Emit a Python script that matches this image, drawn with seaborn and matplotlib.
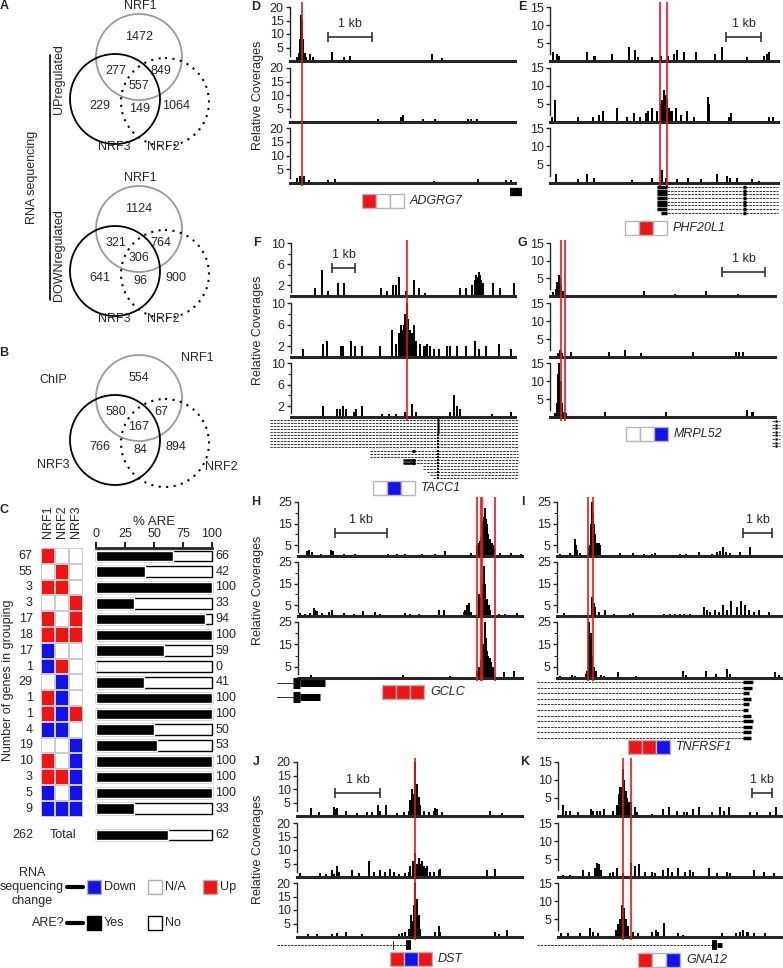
import numpy as np
import pandas as pd
import matplotlib as mpl
mpl.use('Agg')
import matplotlib.pyplot as plt
from matplotlib.patches import Circle, Rectangle
from matplotlib.colors import ListedColormap
import seaborn as sns

sns.set_style('ticks')
plt.rcParams['font.family'] = ['Liberation Sans', 'DejaVu Sans']
plt.rcParams['font.size'] = 9

W, H = 783, 968
RED = '#f21313'
BLUE = '#1212f0'
STATUS_COL = {1: RED, 0: 'white', -1: BLUE}

# ---- Venn counts: NRF1 only, NRF1&3, NRF1&2, all, NRF3 only, NRF2&3, NRF2 only
venn_up = [1472, 277, 849, 557, 229, 149, 1064]
venn_down = [1124, 321, 764, 306, 641, 96, 900]
venn_chip = [554, 580, 67, 167, 766, 84, 894]

# ---- panel C
group_counts = [67, 55, 3, 3, 17, 18, 17, 1, 29, 1, 1, 4, 19, 10, 3, 5, 9]
nrf1_change = [1, 0, 1, 0, 1, 1, -1, -1, 0, 1, 1, -1, 0, 1, 1, -1, -1]
nrf2_change = [0, 1, 1, 0, 0, 1, 0, 1, -1, -1, -1, -1, 0, 0, 1, 0, -1]
nrf3_change = [0, 0, 0, 1, 1, 1, 0, 0, 0, 0, 1, 0, -1, -1, -1, -1, -1]
are_pct = [66, 42, 100, 33, 94, 100, 59, 0, 41, 100, 100, 50, 53, 100, 100, 100, 33]
total_genes = 262
total_are = 62

# ---- genes shown in D-K
gene_names = ['ADGRG7', 'PHF20L1', 'TACC1', 'MRPL52', 'GCLC', 'TNFRSF1', 'DST', 'GNA12']
gene_status = [[1, 0, 0], [0, 1, 0], [0, -1, 0], [0, 0, -1],
               [1, 1, 1], [1, 1, -1], [1, -1, 1], [1, 0, -1]]

# ---- coverage peaks (position across window 0-100, relative coverage)
D1 = [(2.9, 1.5), (3.8, 3), (4.5, 8), (5.0, 17), (5.4, 15), (5.9, 8), (6.5, 3), (7.2, 1.5), (8.9, 2.5),
      (10.4, 1.5), (18.6, 3.5), (23.9, 1.5), (26.7, 2), (63, 2.5), (67.6, 1.2)]
D2 = [(39.2, 1), (49.3, 2), (50.2, 2.5), (58.9, 1), (64.4, 1.2), (70.7, 0.5), (79.3, 1), (80.3, 1), (83, 1.2)]
D3 = [(3.3, 2), (4.3, 2.5), (5.3, 2), (6.2, 2.5), (8.4, 1.2), (14.3, 0.5), (17, 1), (20, 1.5),
      (63.8, 0.6), (72.3, 0.4), (83.6, 1.5), (96, 1.2), (98.4, 1)]

E1 = [(1.5, 2.5), (3, 2), (4, 1.5), (16.4, 2.5), (19.4, 1.5), (19.9, 1.5), (27.3, 2), (34.8, 4), (37.3, 3),
      (38.8, 1), (44.8, 1), (48.5, 1.5), (51.9, 1.5), (54.2, 2), (55.7, 3), (58.7, 2.5), (64.2, 2.5),
      (72.4, 2), (75.4, 4), (86.6, 1), (94, 1.5), (95, 2), (96, 2.5)]
E2 = [(0.7, 1.5), (2.2, 6), (12.4, 1.5), (19, 1.5), (21.6, 2), (23.1, 3), (29.4, 4), (33.9, 1.5), (36.9, 2.5),
      (39.6, 1.5), (42.2, 2.5), (42.8, 3), (44.8, 4), (47, 3), (48.5, 5), (49.3, 6), (50, 9), (50.7, 7.5),
      (51.5, 6.5), (52.2, 4), (53.3, 3), (55.2, 4), (57.5, 2), (60, 3), (63.1, 1.5), (69.4, 7), (69.9, 5),
      (78.4, 1.5), (79.5, 2.5), (96, 1.5), (98, 1.5)]
E3 = [(2.5, 2.5), (12.4, 1), (16.4, 2.5), (19.4, 1.5), (35.8, 0.8), (44.8, 1.5), (49.3, 3.5), (50.7, 1.5),
      (55.9, 1), (60.4, 1.5), (66.4, 1), (73.1, 2.5), (77.6, 2), (79.1, 1.5), (82.1, 1.5), (88.8, 1), (91.8, 0.5)]

F1 = [(10.7, 1.5), (14, 5), (16.3, 1), (20.8, 2.5), (23.7, 2.5), (40, 1.5), (42.9, 1), (45.5, 2), (46.7, 2),
      (48.2, 3.5), (51.4, 1), (54.9, 3), (57.1, 1.5), (59.8, 0.5), (75.4, 1.5), (78.3, 1.5), (81, 2),
      (82.1, 3), (82.7, 4), (83.3, 3.5), (83.9, 4.5), (84.4, 4), (85, 3), (85.5, 2.5), (90, 2.5),
      (93.3, 1.5), (99.6, 2.5)]
F2 = [(5.2, 1.5), (14.1, 2.5), (16, 3), (22.2, 2), (23, 2), (27, 3), (28.4, 2), (31.9, 2), (39.7, 2),
      (45.2, 5), (46.7, 2.5), (48.1, 4.5), (48.9, 6), (49.6, 5), (50.4, 6), (51.1, 8), (51.6, 10), (52.1, 7),
      (53, 5), (54.1, 4.5), (54.8, 6), (56, 3), (57.8, 2.5), (59.6, 2), (60.7, 2.5), (62.2, 2), (63.7, 1.5),
      (65.9, 1.5), (69.6, 2), (70.8, 2), (74, 2), (78, 2), (82, 3), (84, 1.5), (87, 2), (93, 2.5), (98, 1.5)]
F3 = [(14.4, 2), (20.4, 1.5), (21.9, 1.5), (23.4, 2), (24.4, 1.5), (28.1, 1), (29.1, 1.5), (31.5, 2),
      (40.7, 0.5), (43.7, 0.5), (46.7, 0.5), (50.7, 1), (54.1, 2.5), (55.6, 1), (71.1, 1), (72.9, 4),
      (74.1, 2), (75.6, 1.5), (89.6, 0.5), (98, 1)]

G1 = [(1.5, 1), (2.5, 2), (3.2, 4), (3.8, 6), (4.4, 5), (5, 3), (5.8, 1.5), (41.8, 1.5),
      (55.6, 0.5), (69.3, 1.5), (83.7, 0.5)]
G2 = [(3.5, 1.2), (4.3, 2), (5.2, 1), (9.2, 1.5), (26.4, 1.5), (33.3, 2), (40.4, 1), (63.7, 1.5),
      (82.5, 1.5), (84, 1.5), (85.6, 1.5)]
G3 = [(2.2, 1), (3, 4), (3.6, 12), (4.2, 16), (4.8, 10), (5.4, 4), (6.2, 1.5), (7.1, 1), (24.4, 1.5),
      (51.4, 1.5), (87.7, 2), (90, 1.5)]

H1 = [(4, 2.5), (4.8, 3), (6.3, 2), (10.4, 1), (14.7, 3), (15.6, 2.5), (20.4, 1), (25.6, 1), (30.8, 0.5),
      (40.2, 1), (44.3, 1), (47.9, 1), (55.4, 1), (61.3, 1), (65.8, 2.5), (77.2, 1.5), (79.9, 5), (80.6, 6),
      (81.1, 7), (81.6, 9), (82.1, 10), (82.5, 16), (82.9, 18), (83.3, 22), (83.6, 20), (84, 17), (84.4, 15),
      (84.9, 10), (85.3, 8), (85.6, 8), (86.1, 6), (86.6, 6), (87, 5), (87.4, 4), (90.3, 1.5), (95.1, 1.5),
      (99.7, 1)]
H2 = [(1, 1.5), (3.3, 1), (5.5, 1.5), (7, 3.5), (7.7, 3), (8.5, 2.5), (10.7, 1.5), (13.7, 2), (15.2, 3),
      (20.4, 1.5), (24.9, 1), (29, 2.5), (34.5, 2), (36.8, 1), (47.9, 1.5), (49.9, 1), (53.9, 1), (62.8, 3),
      (65, 3), (74.2, 2), (74.7, 3), (75.5, 5), (76.2, 6), (77.2, 2), (80.7, 10), (81.4, 9), (82.1, 8),
      (82.7, 15), (83.2, 23), (83.7, 15), (84.4, 8), (85.1, 5), (85.9, 3), (89.6, 1), (92.6, 1), (97.8, 1.5)]
H3 = [(5.9, 1.5), (10.4, 0.5), (24.4, 0.5), (47, 1.5), (50, 0.5), (68, 1), (80, 3), (80.7, 5), (81.5, 8),
      (82.1, 12), (82.7, 15), (83.3, 25), (83.8, 18), (84.4, 12), (85, 10), (85.6, 9), (86.3, 7), (87, 5),
      (91.9, 2.5), (96.3, 3)]

I1 = [(1.5, 1), (5.9, 1.5), (7.9, 8), (8.4, 5), (8.9, 3), (10.4, 1.5), (14.1, 4), (14.8, 5), (15.3, 15),
      (15.6, 25), (16, 20), (16.3, 15), (16.7, 10), (17, 8), (17.7, 6), (18.5, 6), (19.3, 5), (21.5, 0.5),
      (28.1, 1.5), (33.8, 1.5), (38.5, 1), (42.2, 1), (43.7, 1.5), (54.8, 1), (57.5, 1), (63, 2), (68.9, 1),
      (71.1, 2), (72.6, 2.5), (73.8, 4), (75.3, 2), (76.7, 1.5), (81.5, 2), (85.6, 4), (88.1, 0.5)]
I2 = [(3, 1.5), (6.7, 0.5), (8.1, 0.5), (9.6, 0.5), (15.6, 9), (16.3, 6), (17, 4), (18.5, 2), (21.5, 3),
      (25.2, 1), (32.6, 1), (33.8, 1.5), (47.4, 1), (50.4, 1), (52.6, 1), (54.8, 1), (56.3, 1), (59.3, 1),
      (65.2, 4), (66.7, 3), (68.1, 2), (70.4, 3), (71.9, 2), (73.8, 5), (75.6, 3), (77.5, 7), (80, 4),
      (81.9, 7), (83.7, 5), (85.2, 3), (87.4, 2), (89.6, 3), (94.1, 2)]
I3 = [(1.5, 1), (6.7, 1.5), (8.2, 1), (9.7, 0.5), (12.7, 2), (13.4, 3), (14.2, 25), (14.9, 20), (15.7, 10),
      (16.4, 5), (17.2, 3), (19.4, 1.5), (20.9, 1), (26.9, 2.5), (35.1, 1), (56, 3), (57.5, 1.5), (66.4, 3),
      (70.6, 2), (75.4, 4), (76.9, 2), (97, 2.5), (98.5, 1.5)]

J1 = [(6.2, 3), (9.6, 1.5), (16.3, 3.5), (17, 2.5), (17.8, 3), (21.8, 2), (26.7, 1), (31.1, 1.5), (33.3, 1.5),
      (35.9, 4), (37, 2), (39.7, 4), (44.4, 1), (47.7, 1.5), (49.6, 2), (50.4, 6), (51.1, 10), (51.9, 8),
      (52.6, 21), (53.3, 12), (54.1, 7), (54.8, 4), (56.3, 2), (58.5, 1.5), (60.7, 2), (61.5, 3), (62.2, 2.5),
      (64.4, 1.5), (67.4, 0.5), (81.5, 0.5), (85.6, 2), (91.1, 1)]
J2 = [(1.5, 1.5), (5.9, 0.5), (10.4, 1.5), (13, 1), (15.6, 2.5), (16.6, 1), (17.8, 4), (18.5, 2), (24.4, 2.5),
      (27.4, 1.5), (31.9, 6), (34.1, 2), (36.7, 2.5), (39.3, 2), (41.5, 3), (43, 2), (45.2, 1), (48.1, 1.5),
      (49.6, 2), (50.4, 4), (51.6, 6), (52.6, 9), (53.3, 5), (54.1, 7), (54.8, 5), (55.6, 6), (56.3, 4),
      (57, 3.5), (57.8, 4), (58.9, 2), (60.7, 2), (63, 2.5), (63.7, 3), (84.4, 2.5), (88.1, 3), (96.3, 0.5)]
J3 = [(4.7, 1), (8.9, 1), (15.6, 1), (17.8, 1.5), (21.8, 2), (28.9, 1), (37, 0.5), (45.5, 1), (46.7, 1.5),
      (48.1, 2), (49.6, 3), (50.7, 8), (51.6, 6), (52.1, 12), (52.6, 20), (53.3, 14), (54.1, 8), (54.8, 3),
      (61.5, 2), (63, 4), (63.7, 2), (68.9, 0.5), (74.1, 0.5), (79.3, 0.5), (87.9, 2), (89.6, 1), (93.3, 2.5)]

K1 = [(2.2, 3), (3.7, 1.5), (5.2, 1.5), (9, 1), (14.9, 2), (15.7, 1.5), (17.2, 1.5), (18.7, 1.5), (20.5, 2),
      (24.6, 1.5), (26.4, 3), (27.3, 6), (27.9, 8), (28.8, 13), (29.6, 10), (30.3, 7), (31, 5), (31.6, 4),
      (32.1, 3), (32.8, 4), (34.3, 2.5), (35.4, 1), (41.8, 0.5), (46.7, 2), (49.7, 2.5), (53, 1.5), (56.3, 1),
      (57.5, 1), (60.4, 2), (63.1, 2.5), (68.7, 1), (72.4, 2.5), (73.9, 1.5), (76.4, 2.5), (85.5, 1),
      (88.8, 1), (94.8, 1), (97.5, 2.5)]
K2 = [(2.2, 0.5), (5.2, 0.5), (11.2, 2), (13.9, 1.5), (16.4, 2.5), (17.2, 4), (18.4, 3.5), (19.4, 2),
      (23.1, 1), (24.6, 1.5), (26.4, 2.5), (29.1, 1), (32.8, 4), (34.3, 3), (36.3, 3.5), (38.8, 1.5),
      (41.8, 1.5), (43.3, 1), (47, 2), (49.3, 2.5), (50.7, 1.5), (53.7, 2.5), (56.7, 1.5), (59, 2), (60.4, 1.5),
      (67.2, 2.5), (70.9, 1), (75.4, 1.5), (76.9, 1), (87.6, 2), (91.8, 1.5), (96.3, 1)]
K3 = [(1.5, 1), (4.5, 1), (9.7, 1), (14.2, 2.5), (15.7, 1.5), (17.9, 1), (25.8, 2), (26.9, 3.5), (27.9, 5),
      (28.5, 9), (29.4, 8), (30.3, 5), (31.3, 3), (33.6, 1.5), (35.8, 1), (41.8, 1.5), (43.7, 2), (44.8, 1.5),
      (47.5, 4), (53.7, 1), (56, 0.5), (73.1, 1), (79.6, 1), (81.3, 1.5), (82.8, 2), (84.6, 1.5), (87.3, 1),
      (92.5, 1)]

fig = plt.figure(figsize=(W / 100, H / 100), dpi=100)


def px_axes(x0, y0, x1, y1):
    return fig.add_axes([x0 / W, 1 - y1 / H, (x1 - x0) / W, (y1 - y0) / H])


ov = px_axes(0, 0, W, H)
ov.set_xlim(0, W)
ov.set_ylim(H, 0)
ov.axis('off')


def letter(x, y, s):
    ov.text(x, y, s, fontweight='bold', ha='center', va='center', fontsize=9)


def venn(cx, cy, counts):
    ov.add_patch(Circle((cx, cy), 43, fill=False, ec='#9a9a9a', lw=1.3))
    ov.add_patch(Circle((cx - 24, cy + 42), 45, fill=False, ec='black', lw=1.3))
    ov.add_patch(Circle((cx + 26, cy + 45), 44, fill=False, ec='black', lw=1.5, ls=(0, (1, 2.6))))
    offs = [(0, -20), (-23, 14), (22, 14), (0, 29), (-39, 49), (1, 52), (37, 49)]
    for (dx, dy), n in zip(offs, counts):
        ov.text(cx + dx, cy + dy, str(n), ha='center', va='center')


# ---- panel A / B
letter(4, 6, 'A')
for cy, counts in [(57, venn_up), (229, venn_down)]:
    venn(139, cy, counts)
    ov.text(140, cy - 51, 'NRF1', ha='center', va='center')
    ov.text(114, cy + 90, 'NRF3', ha='center', va='center')
    ov.text(163, cy + 90, 'NRF2', ha='center', va='center')
ov.plot([50, 50], [55, 300], color='black', lw=1.2)
ov.text(59, 79, 'UPregulated', rotation=90, ha='center', va='center')
ov.text(59, 255, 'DOWNregulated', rotation=90, ha='center', va='center')
ov.text(32, 177, 'RNA sequencing', rotation=90, ha='center', va='center')

letter(4, 353, 'B')
venn(139, 398, venn_chip)
ov.text(53, 380, 'ChIP', ha='center', va='center')
ov.text(197, 358, 'NRF1', ha='center', va='center')
ov.text(53, 465, 'NRF3', ha='center', va='center')
ov.text(221, 467, 'NRF2', ha='center', va='center')

# ---- panel C
letter(4, 510, 'C')
n = len(group_counts)
row_top, row_h = 548, 15.8
status = pd.DataFrame({'NRF1': nrf1_change, 'NRF2': nrf2_change, 'NRF3': nrf3_change})
axh = px_axes(41, row_top, 83, row_top + n * row_h)
sns.heatmap(status, cmap=ListedColormap([BLUE, 'white', RED]), vmin=-1, vmax=1, cbar=False,
            linewidths=1.2, linecolor='#cccccc', ax=axh)
axh.set_yticks(np.arange(n) + 0.5)
axh.set_yticklabels(group_counts, rotation=0, fontsize=9)
axh.xaxis.tick_top()
axh.set_xticks(np.arange(3) + 0.5)
axh.set_xticklabels(status.columns, rotation=90, fontsize=9)
axh.tick_params(axis='y', length=0, pad=6)
axh.tick_params(axis='x', length=0, pad=7)
axh.set_ylabel('')

axb = px_axes(96, row_top, 212, row_top + n * row_h)
axb.barh(np.arange(n), [100] * n, height=0.66, color='white', edgecolor='black', lw=1, clip_on=False)
axb.barh(np.arange(n), are_pct, height=0.66, color='black', clip_on=False)
axb.set_xlim(0, 100)
axb.set_ylim(n - 0.5, -0.5)
axb.xaxis.tick_top()
axb.set_xticks([0, 25, 50, 75, 100])
axb.set_yticks([])
for s in ['bottom', 'left', 'right']:
    axb.spines[s].set_visible(False)
axb.spines['top'].set_linewidth(2)
axb.tick_params(axis='x', length=4, width=1.5, pad=2, labelsize=9)
axb.set_title('% ARE', fontsize=9.5, pad=2)
for i, v in enumerate(are_pct):
    axb.text(103, i, str(v), va='center', fontsize=9, clip_on=False)

axt = px_axes(96, 830, 212, 840)
axt.barh([0], [100], height=1, color='white', edgecolor='black', lw=1, clip_on=False)
axt.barh([0], [total_are], height=1, color='black', clip_on=False)
axt.set_xlim(0, 100)
axt.set_ylim(-0.5, 0.5)
axt.axis('off')
axt.text(103, 0, str(total_are), va='center', fontsize=9)
ov.text(33, 835, str(total_genes), ha='right', va='center')
ov.text(63, 835, 'Total', ha='center', va='center')
ov.text(8, 680, 'Number of genes in grouping', rotation=90, ha='center', va='center')

# legend of panel C
ov.text(32, 887, 'RNA\nsequencing\nchange', ha='center', va='center', linespacing=1.25)
ov.plot([67, 83], [887, 887], color='black', lw=3)
for x, c, lab in [(87, BLUE, 'Down'), (148, 'white', 'N/A'), (203, RED, 'Up')]:
    ov.add_patch(Rectangle((x, 880), 14, 14, fc=c, ec='#b0b0b0', lw=1))
    ov.text(x + 17, 887, lab, va='center')
ov.text(65, 923, 'ARE?', ha='right', va='center')
ov.plot([67, 83], [923, 923], color='black', lw=3)
for x, c, lab in [(87, 'black', 'Yes'), (148, 'white', 'No')]:
    ov.add_patch(Rectangle((x, 916), 14, 14, fc=c, ec='black', lw=1))
    ov.text(x + 17, 923, lab, va='center')


# ---- coverage panels
def coverage(x0, x1, rows, tracks, top, ticks, minor, reds, red_span, kb, kb_y, ylab):
    axs = []
    for (t, b), peaks in zip(rows, tracks):
        ax = px_axes(x0, t, x1, b)
        ax.bar([p for p, _ in peaks], [h for _, h in peaks], width=0.9, color='black', lw=0)
        ax.set_xlim(0, 100)
        ax.set_ylim(0, top)
        ax.set_yticks(ticks)
        ax.set_yticks(minor, minor=True)
        ax.set_xticks([])
        ax.set_facecolor('none')
        for s in ['top', 'right']:
            ax.spines[s].set_visible(False)
        ax.spines['bottom'].set_linewidth(2.2)
        ax.spines['left'].set_linewidth(1)
        ax.spines['left'].set_bounds(ticks[0] * 0.4, top)
        ax.tick_params(axis='y', labelsize=9, length=3, width=1, pad=1.5)
        ax.tick_params(axis='y', which='minor', length=2, width=0.8)
        axs.append(ax)
    rax = px_axes(x0, red_span[0], x1, red_span[1])
    rax.set_xlim(0, 100)
    rax.set_ylim(0, 1)
    rax.axis('off')
    rax.vlines(reds, 0, 1, color=RED, lw=1.2)
    a = axs[0]
    a.plot(kb, [kb_y, kb_y], color='#333333', lw=1.2, marker='|', ms=7, mew=1.2)
    a.annotate('1 kb', (sum(kb) / 2, kb_y), xytext=(0, 5), textcoords='offset points',
               ha='center', va='bottom', fontsize=9)
    if ylab:
        ov.text(258, (rows[0][0] + rows[2][1]) / 2, 'Relative Coverages', rotation=90,
                ha='center', va='center')
    return axs


def gene_axes(x0, x1, y0, y1):
    g = px_axes(x0, y0, x1, y1)
    g.set_xlim(0, 100)
    g.set_ylim(y1, y0)
    g.axis('off')
    return g


def status_box(x, y, idx):
    for i, s in enumerate(gene_status[idx]):
        ov.add_patch(Rectangle((x + i * 14, y - 7), 14, 14, fc=STATUS_COL[s], ec='#b5b5b5', lw=1))
    ov.text(x + 3 * 14 + 6, y, gene_names[idx], style='italic', va='center', fontsize=9)


def transcript(g, y, a, b, dashed=True):
    g.plot([a, b], [y, y], color='#333333', lw=0.7, ls=(0, (2.5, 1)) if dashed else '-', clip_on=False)


def block(g, y, a, b, lw=4):
    g.plot([a, b], [y, y], color='black', lw=lw, solid_capstyle='butt', clip_on=False)


rows_DE = [(7, 61), (68, 122), (128, 183)]
rows_FG = [(243, 296), (303, 357), (363, 417)]
rows_HI = [(502, 556), (562, 616), (622, 678)]
rows_JK = [(762, 816), (823, 877), (883, 937)]

# D
coverage(290, 515, rows_DE, [D1, D2, D3], 20, [5, 10, 15, 20], [], [5.3], (2, 186), (16.9, 36.4), 8.9, True)
letter(256, 7, 'D')
g = gene_axes(290, 515, 186, 198)
block(g, 192, 97.8, 103.2, lw=6)
status_box(362, 201, 0)

# E
coverage(550, 778, rows_DE, [E1, E2, E3], 15, [5, 10, 15], [], [48.2, 51.3], (2, 188), (77.2, 92.5), 6.7, False)
letter(522, 7, 'E')
g = gene_axes(550, 778, 184, 215)
for k in range(8):
    y = 187 + k * 3.7
    st = 47 if k < 7 else 48.5
    transcript(g, y, st, 100)
    block(g, y, st, 51.5, lw=2.5)
    block(g, y, 84.5, 86, lw=2.5)
status_box(625, 228, 1)

# F
coverage(291, 515, rows_FG, [F1, F2, F3], 10, [2, 6, 10], [4, 8], [51.6], (240, 421), (18.5, 28.6), 5.3, True)
letter(257, 243, 'F')
g = gene_axes(291, 515, 418, 480)
f_starts = [-9.4] * 10 + [35.3] * 3 + [50] * 2 + [59, 59, 60.5, 62, 63.5]
for k, s in enumerate(f_starts):
    y = 420 + k * 3.05
    transcript(g, y, s, 101.3)
    block(g, y, 65.1, 66.1, lw=1.6 if k > 4 else 2.4)
    if k in (10, 13, 14):
        block(g, y, 54, 55.2, lw=2)
    if k in (13, 14):
        block(g, y, 50, 55.2, lw=1.8)
status_box(373, 488, 2)

# G
coverage(550, 775, rows_FG, [G1, G2, G3], 15, [5, 10, 15], [], [4.9, 6.7], (240, 421), (76.4, 95.6), 6.8, False)
letter(522, 243, 'G')
g = gene_axes(550, 775, 418, 450)
for k in range(8):
    transcript(g, 421 + k * 3.6, 98.7, 102.2)
    block(g, 421 + k * 3.6, 100, 100.8, lw=1.8)
status_box(626, 434, 3)

# H
coverage(298, 522, rows_HI, [H1, H2, H3], 25, [5, 15, 25], [10, 20], [79.9, 81.7, 82.1, 87.9], (497, 681),
         (16.5, 39.7), 10.6, True)
letter(256, 502, 'H')
g = gene_axes(298, 522, 678, 702)
for y, e in [(683, 12), (697, 9.8)]:
    transcript(g, y, -9.4, -2.2, dashed=False)
    block(g, y, -2.2, 0.9, lw=8)
    block(g, y, 0.9, e, lw=5)
status_box(382, 692, 4)

# I
coverage(557, 782, rows_HI, [I1, I2, I3], 25, [5, 15, 25], [10, 20], [13.8, 16], (497, 681), (82.7, 95.6), 10.6, False)
letter(523, 502, 'I')
g = gene_axes(557, 782, 678, 742)
i_ends = [87, 86.5, 85.5, 86, 85.5, 84.8, 86, 87, 86.5, 86, 86]
for k, e in enumerate(i_ends):
    y = 682 + k * 5.6
    transcript(g, y, -8.9, 82.7)
    block(g, y, 82.7, e, lw=2.5)
status_box(628, 747, 5)

# J
coverage(297, 522, rows_JK, [J1, J2, J3], 20, [5, 10, 15, 20], [], [52.4], (758, 940), (16.9, 36.9), 8.5, True)
letter(256, 762, 'J')
g = gene_axes(297, 522, 939, 951)
transcript(g, 945, -8.9, 48.4)
g.plot([42.7, 42.7], [941, 949], color='#333333', lw=0.8)
block(g, 945, 48.4, 50.7, lw=7)
status_box(390, 959, 6)

# K
coverage(558, 782, rows_JK, [K1, K2, K3], 15, [5, 10, 15], [], [29, 32.6], (758, 940), (86.6, 95.5), 6.4, False)
letter(525, 762, 'K')
g = gene_axes(558, 782, 939, 951)
transcript(g, 945, -9.4, 68.8)
block(g, 945, 68.8, 71, lw=7)
block(g, 945, 71, 73.2, lw=3.5)
status_box(638, 960, 7)

fig.savefig('out.png', dpi=100)
